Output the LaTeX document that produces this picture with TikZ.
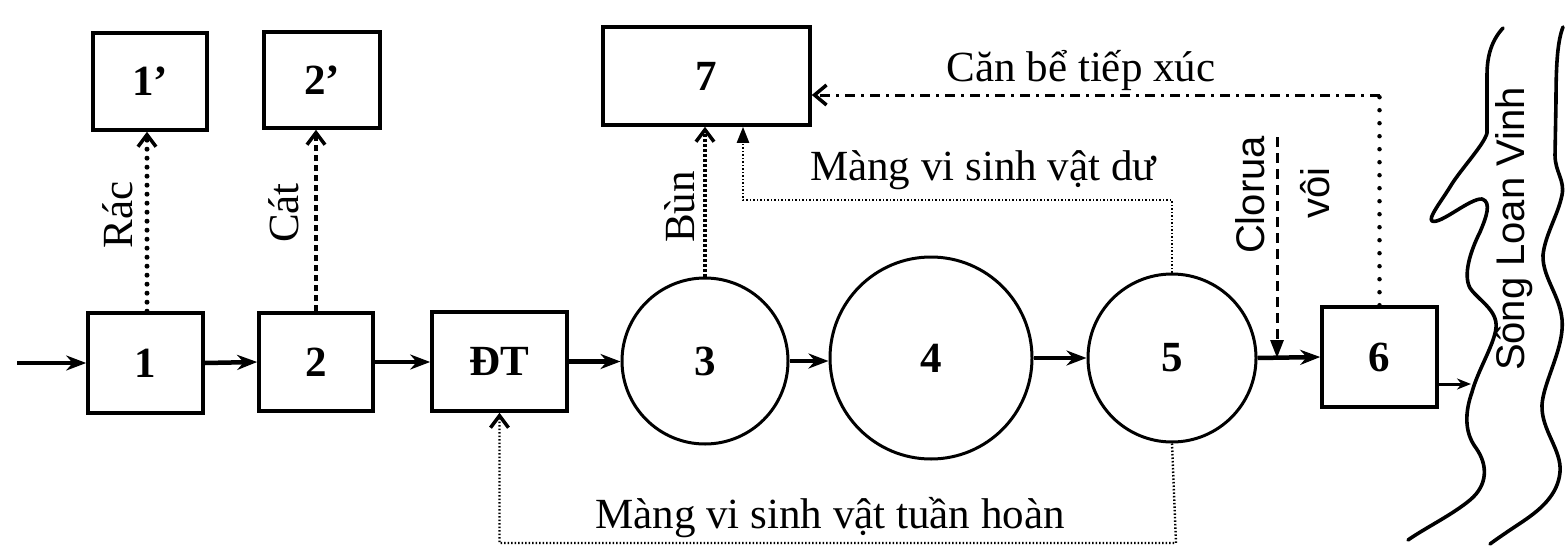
\documentclass[tikz,border=0pt]{standalone}
\usepackage{fontspec}
\setmainfont{Liberation Serif}
\newfontfamily\labsans{Liberation Sans}
\usetikzlibrary{arrows.meta}
\tikzset{
  boxn/.style={draw, line width=3.6pt, inner sep=0pt, font=\fontsize{43}{50}\selectfont\bfseries},
  circn/.style={draw, circle, line width=3pt, inner sep=0pt, font=\fontsize{43}{50}\selectfont\bfseries},
  flow/.style={line width=4.5pt, -{Stealth[length=20pt,width=15pt]}},
  lab/.style={font=\fontsize{43}{50}\selectfont, inner sep=0pt},
  slab/.style={font=\labsans\fontsize{40}{46}\selectfont, inner sep=0pt},
  dotup/.style={line width=5pt, line cap=round, dash pattern=on 0pt off 9pt, -{Straight Barb[length=12pt,width=18pt,line width=3.5pt]}},
  dashup/.style={line width=3.2pt, dash pattern=on 6pt off 4pt, -{Straight Barb[length=12pt,width=18pt,line width=3.5pt]}},
  bunup/.style={line width=4pt, dash pattern=on 2.5pt off 2.5pt, -{Straight Barb[length=12pt,width=18pt,line width=3.5pt]}},
  fine/.style={line width=2.4pt, dash pattern=on 1.5pt off 2pt},
  dashdot/.style={line width=3pt, dash pattern=on 10pt off 6pt on 3pt off 6pt},
  river/.style={line width=3.6pt, line join=round, line cap=round}
}
\begin{document}
\begin{tikzpicture}[x=1pt,y=-1pt]
\useasboundingbox (0,0) rectangle (1565,551);
% main line nodes
\node[boxn, minimum width=115pt, minimum height=100pt] (b1) at (145.5,363) {1};
\node[boxn, minimum width=114pt, minimum height=98pt] (b2) at (316,362) {2};
\node[boxn, minimum width=135pt, minimum height=99pt] (dt) at (499.5,361.5) {ĐT};
\node[circn, minimum size=166pt] (c3) at (705,361) {3};
\node[circn, minimum size=202pt] (c4) at (931,358) {4};
\node[circn, minimum size=168pt] (c5) at (1172,358) {5};
\node[boxn, minimum width=115pt, minimum height=100pt] (b6) at (1379.5,357) {6};
% upper boxes
\node[boxn, minimum width=114pt, minimum height=97pt] (b1p) at (150,81.5) {1'};
\node[boxn, minimum width=116pt, minimum height=96pt] (b2p) at (322,80) {2'};
\node[boxn, minimum width=207pt, minimum height=98pt] (b7) at (706.5,76) {7};
% coordinates
\coordinate (in) at (17,363);
\coordinate (riv) at (1471,384);
\coordinate (md) at (743,200);
\coordinate (cb) at (1381,95);
\coordinate (cl) at (1277,137);
\coordinate (th) at (1176,543);
% main flow
\draw[flow] (in) -- (b1.west);
\draw[flow] (b1.east) -- (b2.west);
\draw[flow] (b2.east) -- (b2.east -| dt.west);
\draw[flow] (dt.east) -- (dt.east -| c3.west);
\draw[flow] (c3.east) -- (c3.east -| c4.west);
\draw[flow] (c4.east) -- (c4.east -| c5.west);
\draw[flow] (c5.east) -- (b6.west);
\draw[line width=3pt, -{Stealth[length=14pt,width=11pt]}] (b6.east |- riv) -- (riv);
% side products
\draw[dotup] (b1.north -| 147,0) -- (b1p.south -| 147,0);
\draw[dashup] (b2.north -| 316,0) -- (b2p.south -| 316,0);
\draw[bunup] (c3.north) -- (c3.north |- b7.south);
\node[lab, rotate=90] (rac) at (118,215) {Rác};
\node[lab, rotate=90] (cat) at (284,213) {Cát};
\node[lab, rotate=90] (bun) at (680,207) {Bùn};
% excess biofilm
\draw[fine, -{Triangle[length=16pt,width=12pt]}] (c5.north) |- (md) -- (md |- b7.south);
\node[lab] (lmd) at (983,170) {Màng vi sinh vật dư};
% contact tank sludge
\draw[line width=4.5pt, line cap=round, dash pattern=on 0pt off 13pt] (b6.north) -- (b6.north |- cb);
\draw[dashdot, -{Straight Barb[length=12pt,width=20pt,line width=3.5pt]}] (b6.north |- cb) -- (b7.east |- cb);
\node[lab] (lcb) at (1081,70) {Căn bể tiếp xúc};
% chlorine
\draw[line width=3pt, dash pattern=on 10pt off 6pt, -{Triangle[length=18pt,width=13pt]}] (cl) -- (cl |- c5.east);
\node[slab, rotate=90] (clo) at (1250,195) {Clorua};
\node[slab, rotate=90] (voi) at (1315,193) {vôi};
% recycle biofilm
\draw[fine, -{Straight Barb[length=12pt,width=18pt,line width=3.5pt]}] (c5.south) -- (th) -| (dt.south);
\node[lab] (lth) at (830,518) {Màng vi sinh vật tuần hoàn};
% river
\draw[river] (1503,28) .. controls (1492,40) and (1487,55) .. (1487,75)
  -- (1487,133) .. controls (1484,145) and (1460,170) .. (1450,187)
  .. controls (1440,203) and (1428,218) .. (1432,221)
  .. controls (1440,225) and (1470,198) .. (1482,199)
  .. controls (1492,202) and (1486,218) .. (1480,232)
  .. controls (1470,252) and (1463,275) .. (1470,288)
  .. controls (1478,300) and (1498,310) .. (1496,328)
  .. controls (1494,345) and (1478,370) .. (1472,392)
  .. controls (1465,412) and (1464,432) .. (1476,448)
  .. controls (1488,465) and (1488,485) .. (1470,500)
  .. controls (1452,515) and (1425,528) .. (1408,540);
\draw[river] (1563,27) .. controls (1558,40) and (1556,60) .. (1556,100)
  -- (1555,155) .. controls (1555,172) and (1565,180) .. (1562,195)
  .. controls (1558,215) and (1545,235) .. (1543,255)
  .. controls (1542,280) and (1565,300) .. (1562,330)
  .. controls (1560,355) and (1543,385) .. (1542,405)
  .. controls (1541,430) and (1562,450) .. (1560,472)
  .. controls (1558,495) and (1540,510) .. (1522,522)
  .. controls (1510,530) and (1498,538) .. (1490,544);
\node[slab, rotate=90] (song) at (1514,229) {Sông Loan Vinh};
\end{tikzpicture}
\end{document}
